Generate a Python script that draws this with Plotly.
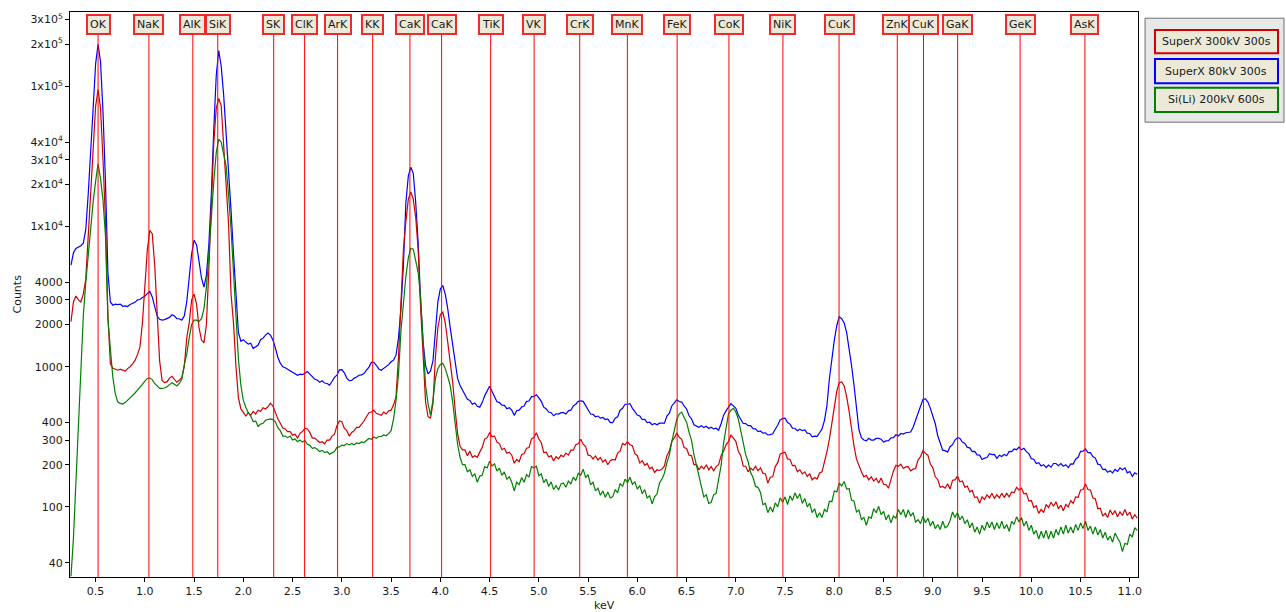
import plotly.graph_objects as go

# ---------------- data ----------------
E_START, E_STEP, N_CH = 0.25, 0.025, 434
energy_kev = [round(E_START + E_STEP * i, 3) for i in range(N_CH)]

# SuperX 300kV 300s (red)
superx_300kv = [
    2100, 2900, 3200, 3000, 2900, 3300, 4200, 8500, 18000, 40000, 72000, 95000, 70000, 30000, 11000, 2300, 1050, 975, 955, 945,
    960, 940, 930, 970, 1000, 1050, 1110, 1220, 1380, 2050, 3700, 6800, 9400, 8900, 5300, 2600, 1100, 800, 770, 780,
    830, 855, 820, 775, 800, 840, 1000, 1600, 2050, 3000, 3300, 2800, 1900, 1550, 1480, 2000, 5000, 13000, 40000, 70000,
    82000, 73000, 37000, 16600, 10300, 3300, 2050, 1000, 600, 500, 470, 445, 470, 450, 480, 460, 490, 480, 510, 500,
    520, 550, 525, 470, 425, 395, 365, 360, 345, 345, 325, 330, 310, 335, 345, 365, 360, 340, 310, 310,
    300, 288, 292, 282, 300, 300, 320, 330, 380, 410, 405, 365, 350, 320, 340, 350, 370, 370, 390, 410,
    440, 470, 475, 490, 465, 455, 450, 475, 460, 485, 490, 535, 612, 1180, 3300, 6800, 10900, 15700, 17700, 15700,
    11600, 6800, 2600, 1100, 560, 440, 430, 545, 1180, 1900, 2360, 2450, 2060, 1500, 1080, 780, 495, 335, 271, 255,
    255, 232, 250, 226, 232, 226, 246, 265, 305, 312, 338, 318, 320, 290, 283, 256, 262, 242, 246, 234,
    205, 218, 210, 236, 240, 262, 265, 305, 314, 338, 305, 287, 244, 246, 227, 232, 213, 228, 220, 234,
    228, 242, 234, 254, 254, 278, 282, 304, 280, 270, 234, 232, 220, 231, 216, 225, 209, 217, 200, 214,
    218, 216, 242, 250, 284, 277, 292, 278, 273, 240, 232, 206, 214, 198, 204, 187, 192, 176, 184, 182,
    186, 196, 232, 250, 294, 310, 336, 315, 303, 265, 261, 234, 232, 200, 201, 184, 195, 187, 200, 184,
    194, 181, 194, 200, 232, 250, 277, 292, 326, 310, 294, 250, 232, 195, 195, 178, 189, 183, 195, 181,
    190, 174, 172, 148, 163, 164, 194, 207, 238, 243, 246, 220, 218, 197, 198, 178, 184, 172, 178, 165,
    172, 156, 162, 158, 175, 178, 206, 248, 305, 400, 530, 670, 770, 780, 730, 612, 480, 355, 271, 219,
    195, 178, 164, 168, 156, 164, 153, 160, 148, 161, 145, 144, 136, 160, 180, 198, 195, 202, 188, 193,
    194, 181, 186, 188, 216, 229, 252, 241, 234, 202, 190, 164, 157, 138, 140, 136, 146, 134, 155, 156,
    166, 151, 153, 138, 141, 128, 131, 117, 118, 106, 118, 113, 122, 116, 125, 115, 122, 116, 125, 117,
    125, 118, 128, 126, 138, 132, 136, 124, 125, 110, 111, 99, 102, 90, 96, 91, 104, 99, 108, 101,
    109, 97, 103, 94, 104, 100, 111, 106, 118, 117, 132, 133, 146, 133, 132, 116, 114, 97, 98, 86,
    90, 84, 95, 88, 94, 85, 92, 87, 96, 87, 92, 82, 88, 83,
]

# SuperX 80kV 300s (blue)
superx_80kv = [
    5300, 6500, 6970, 7100, 7300, 7600, 9500, 17000, 32000, 70000, 145000, 200000, 150000, 66000, 21000, 4700, 2900, 2750, 2800, 2780,
    2800, 2700, 2720, 2690, 2780, 2850, 2880, 3000, 3020, 3120, 3180, 3320, 3450, 3150, 2700, 2300, 2180, 2150, 2170, 2200,
    2250, 2350, 2300, 2200, 2200, 2150, 2300, 2900, 4100, 6400, 8000, 7400, 5650, 4300, 3700, 4500, 7500, 17000, 50000, 120000,
    180000, 140000, 87000, 48000, 24600, 13000, 6400, 3300, 1750, 1520, 1560, 1500, 1450, 1470, 1350, 1390, 1430, 1560, 1600, 1680,
    1740, 1680, 1550, 1360, 1170, 1060, 1000, 985, 960, 945, 910, 895, 870, 885, 880, 900, 925, 885, 855, 815,
    805, 775, 795, 765, 760, 740, 785, 840, 870, 950, 955, 905, 830, 795, 800, 830, 845, 870, 875, 895,
    945, 995, 1075, 1075, 1025, 965, 945, 975, 1005, 1035, 1085, 1115, 1210, 1600, 2600, 5300, 14800, 23000, 26500, 24000,
    14800, 7600, 2900, 1500, 1020, 890, 930, 1100, 1800, 2900, 3600, 3800, 3300, 2600, 1900, 1400, 1080, 825, 735, 680,
    625, 585, 575, 540, 552, 522, 515, 555, 620, 665, 725, 665, 610, 562, 555, 532, 530, 502, 510, 490,
    450, 486, 490, 516, 524, 566, 570, 612, 615, 632, 600, 566, 515, 500, 475, 470, 447, 462, 460, 470,
    470, 460, 485, 490, 526, 540, 566, 570, 566, 524, 490, 460, 457, 440, 445, 430, 435, 420, 425, 400,
    400, 430, 440, 490, 505, 540, 540, 546, 505, 475, 452, 445, 420, 422, 400, 402, 386, 394, 385, 396,
    394, 396, 445, 466, 525, 556, 580, 565, 560, 525, 500, 447, 425, 386, 380, 370, 379, 368, 376, 363,
    370, 360, 364, 352, 392, 450, 484, 516, 545, 526, 505, 452, 425, 394, 393, 380, 380, 362, 360, 345,
    348, 336, 338, 326, 328, 332, 358, 382, 418, 427, 430, 400, 390, 365, 364, 350, 358, 350, 354, 336,
    334, 316, 320, 319, 338, 360, 415, 530, 825, 1180, 1550, 1970, 2270, 2200, 2050, 1750, 1380, 1020, 735, 530,
    355, 312, 300, 296, 309, 300, 300, 308, 308, 304, 290, 296, 297, 311, 312, 327, 321, 334, 331, 338,
    338, 342, 370, 412, 468, 528, 585, 590, 560, 505, 452, 392, 322, 283, 254, 252, 246, 269, 278, 300,
    312, 308, 290, 284, 266, 264, 248, 249, 235, 234, 218, 223, 225, 240, 236, 237, 222, 234, 229, 237,
    232, 249, 248, 259, 256, 267, 256, 262, 248, 240, 221, 219, 204, 207, 196, 200, 191, 199, 192, 204,
    204, 197, 204, 195, 200, 191, 203, 202, 219, 226, 249, 250, 259, 244, 244, 229, 223, 202, 200, 185,
    186, 177, 181, 175, 185, 179, 190, 184, 190, 175, 179, 165, 175, 171,
]

# Si(Li) 200kV 600s (green)
sili_200kv = [
    32, 60, 150, 370, 1100, 2300, 4000, 6500, 10000, 15000, 21000, 28000, 22000, 15500, 8600, 2200, 1340, 840, 640, 560,
    548, 542, 555, 575, 605, 620, 650, 680, 720, 750, 790, 825, 830, 810, 760, 730, 700, 700, 705, 720,
    740, 770, 750, 730, 760, 810, 1030, 1230, 1600, 2000, 2150, 2150, 2100, 2200, 2600, 3700, 6400, 12300, 21000, 34000,
    42000, 40000, 33000, 27000, 16700, 9700, 4700, 2050, 1130, 735, 575, 515, 470, 445, 405, 410, 375, 390, 395, 415,
    418, 425, 420, 405, 368, 350, 320, 320, 312, 320, 300, 305, 292, 300, 290, 297, 280, 275, 262, 265,
    258, 248, 253, 244, 248, 238, 243, 248, 266, 268, 276, 274, 283, 277, 284, 278, 286, 283, 291, 288,
    298, 308, 304, 315, 309, 318, 318, 326, 322, 333, 350, 425, 575, 877, 1800, 2900, 4400, 6000, 7000, 6900,
    5600, 4700, 3100, 1420, 735, 545, 452, 575, 825, 970, 1040, 1060, 970, 850, 735, 560, 400, 280, 226, 200,
    200, 178, 184, 165, 172, 150, 166, 168, 194, 190, 212, 196, 203, 180, 189, 168, 178, 158, 164, 150,
    130, 150, 144, 162, 150, 170, 163, 194, 190, 195, 167, 172, 149, 158, 140, 151, 133, 142, 132, 146,
    148, 138, 153, 146, 163, 154, 174, 168, 186, 162, 170, 144, 150, 130, 136, 121, 130, 117, 128, 116,
    118, 133, 126, 147, 140, 158, 149, 163, 145, 151, 134, 142, 124, 133, 116, 120, 105, 118, 124, 148,
    158, 174, 206, 235, 292, 350, 420, 460, 475, 435, 402, 340, 300, 236, 198, 158, 140, 118, 122, 106,
    108, 122, 125, 157, 196, 284, 370, 460, 490, 505, 476, 424, 350, 292, 236, 210, 176, 162, 140, 138,
    127, 104, 106, 91, 100, 92, 107, 100, 116, 108, 118, 104, 120, 111, 126, 115, 124, 106, 115, 100,
    106, 91, 97, 84, 91, 84, 96, 92, 110, 109, 130, 128, 148, 141, 152, 134, 135, 112, 110, 92,
    95, 81, 84, 74, 85, 83, 97, 91, 101, 88, 93, 81, 88, 77, 86, 83, 96, 88, 96, 84,
    95, 86, 91, 78, 81, 76, 86, 77, 83, 73, 79, 70, 75, 69, 79, 71, 73, 80, 92, 84,
    91, 81, 86, 76, 81, 71, 77, 66, 72, 64, 74, 68, 78, 71, 78, 69, 77, 70, 79, 70,
    75, 67, 79, 75, 85, 78, 84, 73, 79, 68, 74, 64, 68, 59, 67, 60, 68, 59, 67, 60,
    69, 63, 72, 64, 74, 65, 72, 65, 75, 68, 77, 70, 79, 68, 73, 64, 72, 63, 69, 60,
    66, 58, 62, 56, 65, 60, 56, 48, 55, 54, 64, 61, 71, 68,
]

series_names = ["SuperX 300kV 300s", "SuperX 80kV 300s", "Si(Li) 200kV 600s"]
series_colors = ["#D00000", "#0000FF", "#008000"]

element_labels = ["OK", "NaK", "AlK", "SiK", "SK", "ClK", "ArK", "KK", "CaK", "CaK", "TiK", "VK",
                  "CrK", "MnK", "FeK", "CoK", "NiK", "CuK", "ZnK", "CuK", "GaK", "GeK", "AsK"]
element_kev = [0.525, 1.041, 1.487, 1.740, 2.308, 2.622, 2.957, 3.313, 3.691, 4.013, 4.511, 4.952,
               5.415, 5.899, 6.404, 6.930, 7.478, 8.048, 8.639, 8.905, 9.252, 9.886, 10.544]

x_tickvals = [0.5, 1.0, 1.5, 2.0, 2.5, 3.0, 3.5, 4.0, 4.5, 5.0, 5.5, 6.0, 6.5, 7.0, 7.5, 8.0, 8.5,
              9.0, 9.5, 10.0, 10.5, 11.0]
y_tickvals = [3e5, 2e5, 1e5, 4e4, 3e4, 2e4, 1e4, 4000, 3000, 2000, 1000, 400, 300, 200, 100, 40]
y_ticktext = ["3x10<sup>5</sup>", "2x10<sup>5</sup>", "1x10<sup>5</sup>", "4x10<sup>4</sup>",
              "3x10<sup>4</sup>", "2x10<sup>4</sup>", "1x10<sup>4</sup>", "4000", "3000", "2000",
              "1000", "400", "300", "200", "100", "40"]

# ---------------- figure ----------------
FONT = "DejaVu Sans"
fig = go.Figure()

plot_order = [(superx_80kv, 1), (superx_300kv, 0), (sili_200kv, 2)]
for vals, idx in plot_order:
    n = min(len(vals), len(energy_kev))
    fig.add_trace(go.Scatter(x=energy_kev[:n], y=vals[:n], mode="lines", name=series_names[idx],
                             line=dict(color=series_colors[idx], width=1.2), showlegend=False))

shapes = []
annotations = []
for lbl, e in zip(element_labels, element_kev):
    shapes.append(dict(type="line", xref="x", yref="paper", x0=e, x1=e, y0=0, y1=0.962,
                       line=dict(color="#FF0000", width=1)))
    annotations.append(dict(x=e, y=1, xref="x", yref="paper", xanchor="center", yanchor="top",
                            yshift=-2, text=lbl, showarrow=False, bgcolor="#ECE9D8",
                            bordercolor="#EE2A2A", borderwidth=2, borderpad=2,
                            font=dict(family=FONT, size=11, color="#1a1a1a")))

# legend panel (outside the plot on the right)
shapes.append(dict(type="rect", xref="paper", yref="paper", x0=1.0066, x1=1.1367, y0=0.805, y1=0.989,
                   fillcolor="#E8E8E8", line=dict(color="#707070", width=1), layer="below"))
legend_rows = [(0.968, 0.927), (0.917, 0.874), (0.866, 0.823)]
for (ytop, ybot), name, col in zip(legend_rows, series_names, series_colors):
    shapes.append(dict(type="rect", xref="paper", yref="paper", x0=1.0159, x1=1.1311, y0=ybot, y1=ytop,
                       fillcolor="#ECE9D8", line=dict(color=col, width=2)))
    annotations.append(dict(x=1.0735, y=(ytop + ybot) / 2, xref="paper", yref="paper",
                            xanchor="center", yanchor="middle", text=name, showarrow=False,
                            font=dict(family=FONT, size=11, color="#1a1a1a")))

annotations.append(dict(x=-0.0496, y=0.5, xref="paper", yref="paper", text="Counts", textangle=-90,
                        showarrow=False, xanchor="center", yanchor="middle",
                        font=dict(family=FONT, size=11, color="#1a1a1a")))
annotations.append(dict(x=0.5, y=-0.0496, xref="paper", yref="paper", text="keV", showarrow=False,
                        xanchor="center", yanchor="middle",
                        font=dict(family=FONT, size=11, color="#1a1a1a")))

fig.update_layout(
    width=1286, height=612,
    margin=dict(l=70, r=148, t=12, b=35),
    paper_bgcolor="white", plot_bgcolor="white",
    font=dict(family=FONT, size=11, color="#1a1a1a"),
    shapes=shapes, annotations=annotations,
    xaxis=dict(range=[0.24, 11.083], tickvals=x_tickvals, ticktext=[f"{v:.1f}" for v in x_tickvals],
               ticks="outside", ticklen=4, tickcolor="black", showline=True, mirror=True,
               linecolor="black", linewidth=1, showgrid=False, zeroline=False,
               tickfont=dict(family=FONT, size=11)),
    yaxis=dict(type="log", range=[1.5, 5.531], tickvals=y_tickvals, ticktext=y_ticktext,
               ticks="outside", ticklen=4, tickcolor="black", showline=True, mirror=True,
               linecolor="black", linewidth=1, showgrid=False, zeroline=False,
               tickfont=dict(family=FONT, size=11)),
)

fig.write_html("out.html", config={"displayModeBar": False},
               post_script="document.body.style.margin='0';document.body.style.overflow='hidden';")
